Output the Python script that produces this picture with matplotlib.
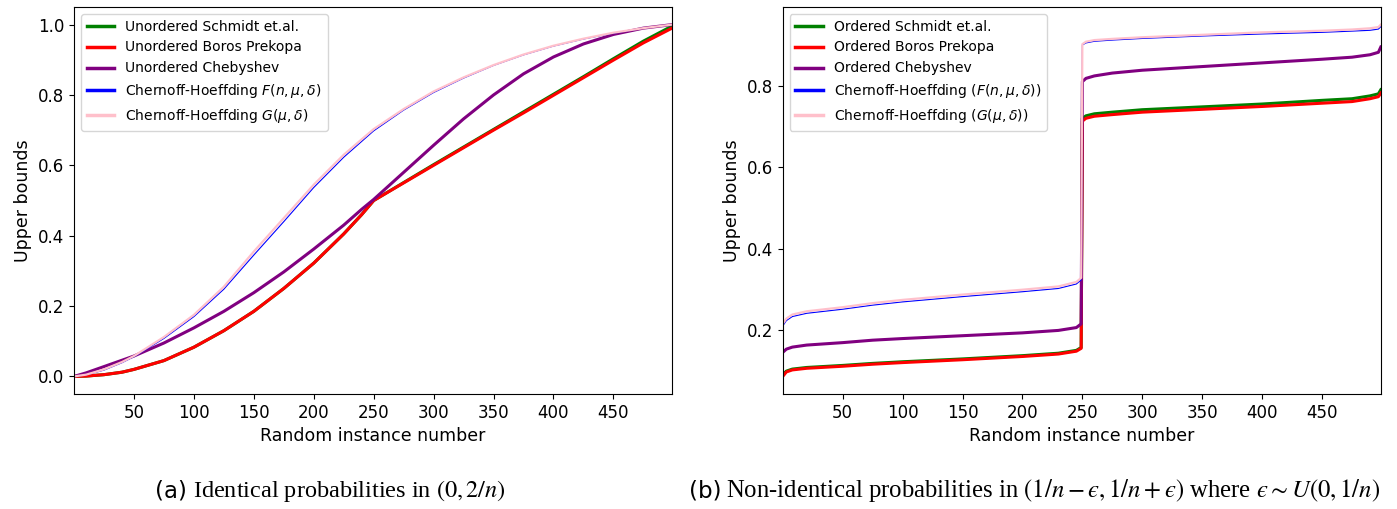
import matplotlib
matplotlib.use('Agg')
import matplotlib.pyplot as plt

# (a) identical probabilities
x_a = [0, 10, 25, 40, 50, 75, 100, 125, 150, 175, 200, 225, 240, 250, 275, 300, 325,
       350, 375, 400, 425, 450, 475, 499]
schmidt_a = [0.0, 0.001, 0.005, 0.012, 0.02, 0.045, 0.083, 0.13, 0.185, 0.25, 0.322, 0.405,
             0.46, 0.50, 0.551, 0.602, 0.652, 0.702, 0.752, 0.802, 0.852, 0.903, 0.953, 0.996]
boros_a = [0.0, 0.001, 0.005, 0.012, 0.02, 0.045, 0.083, 0.13, 0.185, 0.25, 0.322, 0.405,
           0.46, 0.50, 0.55, 0.60, 0.65, 0.70, 0.749, 0.799, 0.849, 0.899, 0.948, 0.99]
cheby_a = [0.0, 0.01, 0.028, 0.046, 0.058, 0.095, 0.138, 0.185, 0.238, 0.297, 0.362, 0.43,
           0.475, 0.503, 0.58, 0.657, 0.732, 0.80, 0.86, 0.908, 0.945, 0.972, 0.99, 1.0]
chf_a = [0.0, 0.004, 0.018, 0.039, 0.056, 0.108, 0.17, 0.248, 0.345, 0.44, 0.537, 0.623,
         0.668, 0.698, 0.757, 0.807, 0.848, 0.884, 0.914, 0.939, 0.959, 0.976, 0.99, 1.0]
chg_a = [0.0, 0.005, 0.02, 0.041, 0.058, 0.112, 0.175, 0.255, 0.355, 0.45, 0.545, 0.63,
         0.674, 0.703, 0.76, 0.81, 0.85, 0.885, 0.915, 0.94, 0.96, 0.977, 0.99, 1.0]

# (b) non-identical probabilities, sorted instances
x_b = [0, 3, 8, 20, 50, 75, 100, 150, 200, 230, 245, 249, 250, 253, 260, 275, 300,
       350, 400, 450, 475, 490, 497, 499]
schmidt_b = [0.09, 0.099, 0.104, 0.108, 0.113, 0.118, 0.122, 0.129, 0.137, 0.143, 0.15, 0.157,
             0.72, 0.726, 0.731, 0.735, 0.741, 0.748, 0.755, 0.764, 0.768, 0.775, 0.78, 0.79]
boros_b = [0.086, 0.097, 0.102, 0.106, 0.111, 0.116, 0.12, 0.127, 0.135, 0.141, 0.148, 0.155,
           0.713, 0.72, 0.725, 0.729, 0.735, 0.742, 0.749, 0.757, 0.761, 0.768, 0.773, 0.782]
cheby_b = [0.145, 0.153, 0.158, 0.163, 0.169, 0.175, 0.179, 0.186, 0.193, 0.199, 0.206, 0.215,
           0.81, 0.818, 0.824, 0.831, 0.838, 0.847, 0.856, 0.865, 0.87, 0.876, 0.882, 0.895]
chf_b = [0.21, 0.223, 0.233, 0.241, 0.251, 0.261, 0.269, 0.282, 0.294, 0.302, 0.313, 0.323,
         0.9, 0.905, 0.909, 0.912, 0.916, 0.922, 0.927, 0.931, 0.934, 0.936, 0.939, 0.945]
chg_b = [0.215, 0.228, 0.238, 0.246, 0.256, 0.266, 0.274, 0.287, 0.299, 0.307, 0.318, 0.328,
         0.902, 0.908, 0.912, 0.915, 0.919, 0.925, 0.931, 0.935, 0.938, 0.941, 0.944, 0.95]

x_ticks = [50, 100, 150, 200, 250, 300, 350, 400, 450]

labels_a = ['Unordered Schmidt et.al.', 'Unordered Boros Prekopa', 'Unordered Chebyshev',
            r'Chernoff-Hoeffding $F(n,\mu,\delta)$', r'Chernoff-Hoeffding $G(\mu,\delta)$']
labels_b = ['Ordered Schmidt et.al.', 'Ordered Boros Prekopa', 'Ordered Chebyshev',
            r'Chernoff-Hoeffding ($F(n,\mu,\delta)$)', r'Chernoff-Hoeffding ($G(\mu,\delta)$)']

colors = ['green', 'red', 'purple', 'blue', 'pink']
widths = [2.2, 2.2, 2.2, 0.8, 1.6]

fig = plt.figure(figsize=(13.97, 5.09), dpi=100)
ax1 = fig.add_axes([0.0530, 0.2259, 0.4281, 0.7603])
ax2 = fig.add_axes([0.5603, 0.2259, 0.4281, 0.7603])

series_a = [schmidt_a, boros_a, cheby_a, chf_a, chg_a]
series_b = [schmidt_b, boros_b, cheby_b, chf_b, chg_b]

for ax, x, series, labels in [(ax1, x_a, series_a, labels_a), (ax2, x_b, series_b, labels_b)]:
    for y, lab, c, w in zip(series, labels, colors, widths):
        ax.plot(x, y, color=c, lw=w, label=lab)
    ax.set_xlim(0, 499)
    ax.set_xticks(x_ticks)
    ax.tick_params(labelsize=12)
    ax.set_xlabel('Random instance number', fontsize=12.5)
    ax.set_ylabel('Upper bounds', fontsize=12.5)
    leg = ax.legend(loc='upper left', fontsize=10)
    for line in leg.get_lines():
        line.set_linewidth(2.5)

# sub-captions
base = 1 - 497 / 509
fig.text(155 / 1397, base, '(a)', family='DejaVu Sans', fontsize=16.5, va='baseline')
fig.text(193 / 1397, base, r'Identical probabilities in $(0, 2/n)$',
         family='Liberation Serif', math_fontfamily='stix', fontsize=17.5, va='baseline')
fig.text(689 / 1397, base, '(b)', family='DejaVu Sans', fontsize=16.5, va='baseline')
fig.text(726 / 1397, base,
         r'Non-identical probabilities in $(1/n-ϵ, 1/n+ϵ)$ where $ϵ\sim U(0, 1/n)$',
         family='Liberation Serif', math_fontfamily='stix', fontsize=17.8, va='baseline')

fig.savefig('out.png', dpi=100)
